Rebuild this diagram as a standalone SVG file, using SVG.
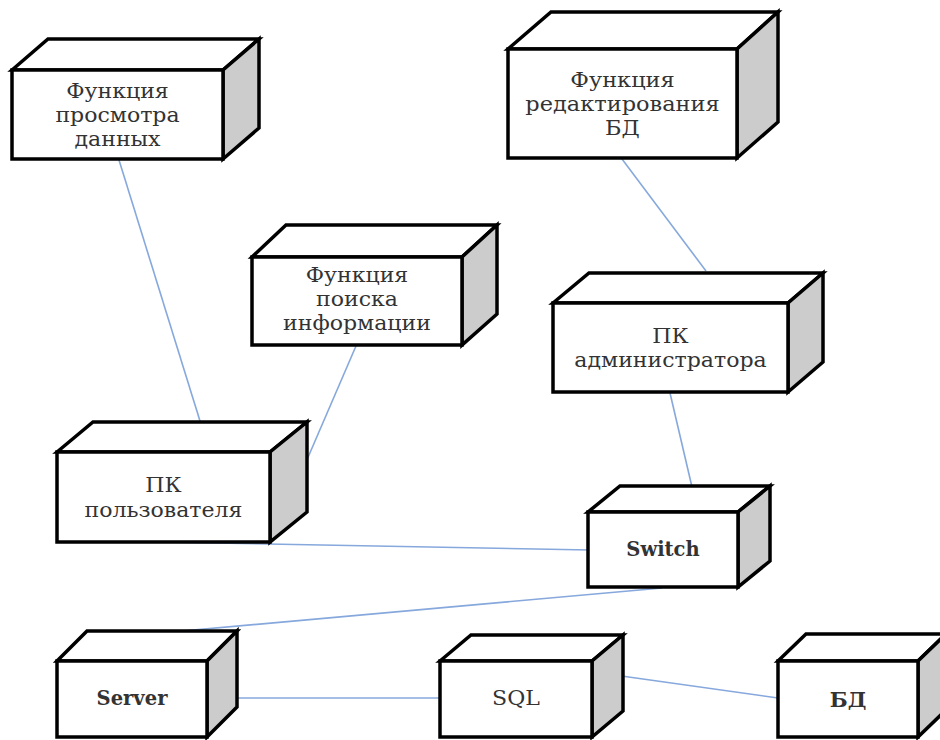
<svg xmlns="http://www.w3.org/2000/svg" width="940" height="740" viewBox="0 0 940 740">
  <defs>
    <style>
      .bg { fill: #ffffff; }
      .front { fill: #ffffff; stroke: #000000; stroke-width: 3.5; stroke-linejoin: miter; }
      .top { fill: #ffffff; stroke: #000000; stroke-width: 3.5; stroke-linejoin: miter; }
      .side { fill: #cccccc; stroke: #000000; stroke-width: 3.5; stroke-linejoin: miter; }
      .link { stroke: #86a8dc; stroke-width: 1.6; fill: none; }
      .label { font-family: "DejaVu Serif", "Liberation Serif", serif; font-size: 21px; fill: #333333; text-anchor: middle; }
      .bold { font-weight: bold; }
    </style>
  </defs>
  <rect class="bg" x="0" y="0" width="940" height="740"/>

  <!-- connectors -->
  <g id="connectors">
    <line class="link" x1="119" y1="160" x2="200" y2="421"/>
    <line class="link" x1="356" y1="346" x2="306" y2="462"/>
    <line class="link" x1="622" y1="159" x2="706" y2="271"/>
    <line class="link" x1="670" y1="393" x2="692" y2="487"/>
    <line class="link" x1="160" y1="542" x2="590" y2="550"/>
    <line class="link" x1="662" y1="588" x2="160" y2="633"/>
    <line class="link" x1="207" y1="698" x2="440" y2="698"/>
    <line class="link" x1="593" y1="672" x2="778" y2="698"/>
  </g>

  <!-- node: Функция просмотра данных -->
  <g id="node-view">
    <polygon class="top" points="12,70 48,39 259,39 223,70"/>
    <polygon class="side" points="223,70 259,39 259,128 223,159"/>
    <rect class="front" x="12" y="70" width="211" height="89"/>
    <g transform="translate(117.5,0) scale(1.05,1)">
      <text class="label" x="0" y="98">Функция</text>
      <text class="label" x="0" y="122">просмотра</text>
      <text class="label" x="0" y="146">данных</text>
    </g>
  </g>

  <!-- node: Функция редактирования БД -->
  <g id="node-edit">
    <polygon class="top" points="508,49 551,12 778,12 737,49"/>
    <polygon class="side" points="737,49 778,12 778,122 737,158"/>
    <rect class="front" x="508" y="49" width="229" height="109"/>
    <g transform="translate(622.5,0) scale(1.07,1)">
      <text class="label" x="0" y="87">Функция</text>
      <text class="label" x="0" y="111">редактирования</text>
      <text class="label" x="0" y="135">БД</text>
    </g>
  </g>

  <!-- node: Функция поиска информации -->
  <g id="node-search">
    <polygon class="top" points="252,257 286,225 497,225 462,257"/>
    <polygon class="side" points="462,257 497,225 497,314 462,345"/>
    <rect class="front" x="252" y="257" width="210" height="88"/>
    <g transform="translate(357,0) scale(1.05,1)">
      <text class="label" x="0" y="282">Функция</text>
      <text class="label" x="0" y="306">поиска</text>
      <text class="label" x="0" y="330">информации</text>
    </g>
  </g>

  <!-- node: ПК администратора -->
  <g id="node-admin">
    <polygon class="top" points="553,303 589,273 823,273 788,303"/>
    <polygon class="side" points="788,303 823,273 823,362 788,392"/>
    <rect class="front" x="553" y="303" width="235" height="89"/>
    <g transform="translate(670.5,0) scale(1.05,1)">
      <text class="label" x="0" y="343">ПК</text>
      <text class="label" x="0" y="367">администратора</text>
    </g>
  </g>

  <!-- node: ПК пользователя -->
  <g id="node-user">
    <polygon class="top" points="57,452 93,422 307,422 270,452"/>
    <polygon class="side" points="270,452 307,422 307,512 270,542"/>
    <rect class="front" x="57" y="452" width="213" height="90"/>
    <g transform="translate(163.5,0) scale(1.05,1)">
      <text class="label" x="0" y="492">ПК</text>
      <text class="label" x="0" y="517">пользователя</text>
    </g>
  </g>

  <!-- node: Switch -->
  <g id="node-switch">
    <polygon class="top" points="588,512 620,486 770,486 738,512"/>
    <polygon class="side" points="738,512 770,486 770,561 738,587"/>
    <rect class="front" x="588" y="512" width="150" height="75"/>
    <g transform="translate(663,0) scale(0.93,1)">
      <text class="label bold" x="0" y="556">Switch</text>
    </g>
  </g>

  <!-- node: Server -->
  <g id="node-server">
    <polygon class="top" points="57,661 87,631 237,631 207,661"/>
    <polygon class="side" points="207,661 237,631 237,707 207,737"/>
    <rect class="front" x="57" y="661" width="150" height="76"/>
    <g transform="translate(132,0) scale(0.93,1)">
      <text class="label bold" x="0" y="705">Server</text>
    </g>
  </g>

  <!-- node: SQL -->
  <g id="node-sql">
    <polygon class="top" points="440,661 471,635 623,635 592,661"/>
    <polygon class="side" points="592,661 623,635 623,711 592,737"/>
    <rect class="front" x="440" y="661" width="152" height="76"/>
    <g transform="translate(516,0) scale(1.05,1)">
      <text class="label" x="0" y="705">SQL</text>
    </g>
  </g>

  <!-- node: БД -->
  <g id="node-db">
    <polygon class="top" points="778,661 806,634 946,634 918,661"/>
    <polygon class="side" points="918,661 946,634 946,710 918,737"/>
    <rect class="front" x="778" y="661" width="140" height="76"/>
    <g transform="translate(848,0) scale(1,1)">
      <text class="label bold" x="0" y="707">БД</text>
    </g>
  </g>
</svg>
